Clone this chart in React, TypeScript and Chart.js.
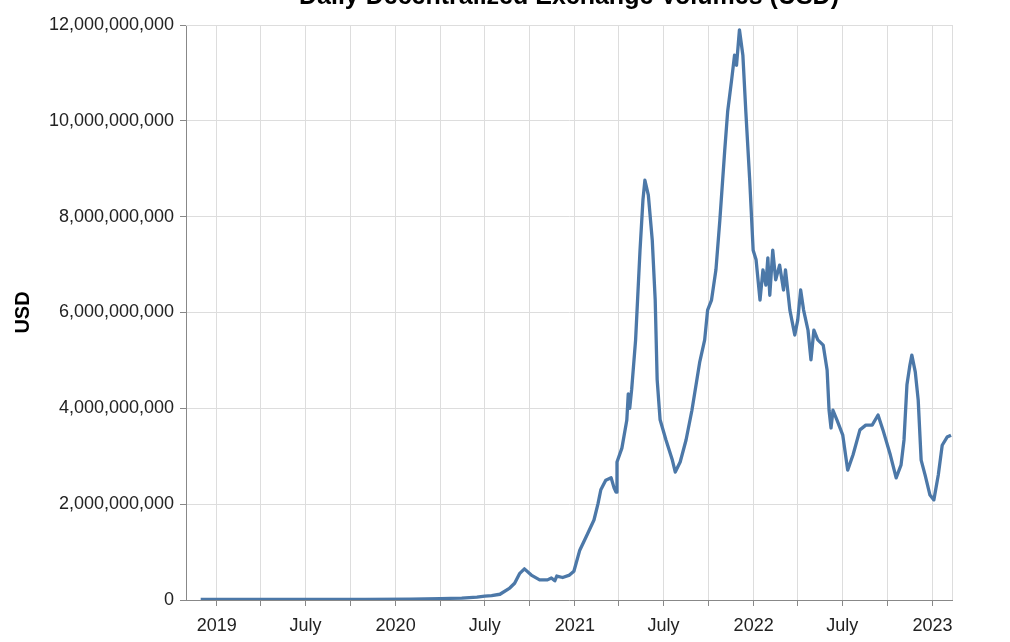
import { useEffect, useRef } from "react";
import { Chart, registerables } from "chart.js";

Chart.register(...registerables);

const chartTitle = "Daily Decentralized Exchange Volumes (USD)";
const yAxisTitle = "USD";

const dates = [
  "2018-11-29", "2019-02-01", "2019-05-01", "2019-08-01", "2019-11-01",
  "2020-02-01", "2020-04-01", "2020-05-15", "2020-06-15", "2020-07-01",
  "2020-07-15", "2020-08-01", "2020-08-21", "2020-08-31", "2020-09-10",
  "2020-09-20", "2020-10-04", "2020-10-21", "2020-11-06", "2020-11-14",
  "2020-11-21", "2020-11-25", "2020-12-07", "2020-12-21", "2020-12-30",
  "2021-01-11", "2021-01-26", "2021-02-09", "2021-02-17", "2021-02-23",
  "2021-03-05", "2021-03-16", "2021-03-22", "2021-03-26", "2021-03-28",
  "2021-04-07", "2021-04-17", "2021-04-20", "2021-04-23", "2021-04-27",
  "2021-05-05", "2021-05-14", "2021-05-20", "2021-05-24", "2021-05-31",
  "2021-06-08", "2021-06-14", "2021-06-18", "2021-06-24", "2021-07-06",
  "2021-07-19", "2021-07-25", "2021-08-04", "2021-08-16", "2021-08-28",
  "2021-09-07", "2021-09-13", "2021-09-23", "2021-09-29", "2021-10-07",
  "2021-10-16", "2021-10-24", "2021-11-03", "2021-11-09", "2021-11-17",
  "2021-11-23", "2021-11-27", "2021-12-03", "2021-12-10", "2021-12-16",
  "2021-12-24", "2021-12-31", "2022-01-06", "2022-01-14", "2022-01-20",
  "2022-01-26", "2022-01-30", "2022-02-03", "2022-02-09", "2022-02-15",
  "2022-02-23", "2022-03-03", "2022-03-07", "2022-03-16", "2022-03-26",
  "2022-04-01", "2022-04-07", "2022-04-13", "2022-04-22", "2022-04-28",
  "2022-05-04", "2022-05-12", "2022-05-23", "2022-05-31", "2022-06-04",
  "2022-06-08", "2022-06-12", "2022-06-20", "2022-07-02", "2022-07-12",
  "2022-07-23", "2022-08-06", "2022-08-18", "2022-08-31", "2022-09-12",
  "2022-09-22", "2022-10-07", "2022-10-19", "2022-10-29", "2022-11-04",
  "2022-11-10", "2022-11-16", "2022-11-20", "2022-11-27", "2022-12-03",
  "2022-12-09", "2022-12-17", "2022-12-27", "2023-01-04", "2023-01-13",
  "2023-01-21", "2023-01-31", "2023-02-08",
];

const volumesBn = [
  0.01, 0.01, 0.012, 0.015, 0.015,
  0.02, 0.03, 0.04, 0.06, 0.08,
  0.09, 0.12, 0.25, 0.35, 0.55,
  0.65, 0.52, 0.42, 0.42, 0.46,
  0.4, 0.5, 0.47, 0.52, 0.6,
  1.04, 1.36, 1.67, 2.0, 2.3,
  2.5, 2.55, 2.34, 2.25, 2.88,
  3.17, 3.75, 4.3, 4.0, 4.4,
  5.43, 7.3, 8.35, 8.76, 8.45,
  7.51, 6.26, 4.6, 3.76, 3.34,
  2.92, 2.67, 2.88, 3.34, 3.96,
  4.59, 4.97, 5.43, 6.05, 6.26,
  6.89, 7.93, 9.39, 10.2, 10.85,
  11.37, 11.16, 11.9, 11.37, 10.2,
  8.76, 7.3, 7.1, 6.26, 6.89,
  6.57, 7.14, 6.36, 7.3, 6.68,
  6.99, 6.47, 6.89, 6.05, 5.53,
  5.84, 6.47, 6.05, 5.63, 5.01,
  5.63, 5.43, 5.32, 4.8, 3.96,
  3.59, 3.96, 3.76, 3.44, 2.71,
  3.03, 3.55, 3.65, 3.65, 3.86,
  3.55, 3.03, 2.55, 2.82, 3.34,
  4.49, 4.9, 5.11, 4.76, 4.17,
  2.92, 2.61, 2.19, 2.09, 2.61,
  3.23, 3.4, 3.44,
];

const xDomain = ["2018-10-30", "2023-02-10"];

const quarterTicks = [
  "2019-01-01", "2019-04-01", "2019-07-01", "2019-10-01",
  "2020-01-01", "2020-04-01", "2020-07-01", "2020-10-01",
  "2021-01-01", "2021-04-01", "2021-07-01", "2021-10-01",
  "2022-01-01", "2022-04-01", "2022-07-01", "2022-10-01",
  "2023-01-01",
];
const quarterLabels = [
  "2019", "", "July", "",
  "2020", "", "July", "",
  "2021", "", "July", "",
  "2022", "", "July", "",
  "2023",
];

const yMin = 0;
const yMax = 12000000000;
const yStep = 2000000000;

const FONT = "'Liberation Sans', Arial, Helvetica, sans-serif";

export default function App() {
  const ref = useRef<HTMLCanvasElement | null>(null);

  useEffect(() => {
    const canvas = ref.current;
    if (!canvas) return;

    const tickValues = quarterTicks.map((d) => Date.parse(d));

    const viewBorder = {
      id: "viewBorder",
      beforeDatasetsDraw(chart: any) {
        const { ctx, chartArea } = chart;
        const { left, top, right, bottom } = chartArea;
        ctx.save();
        ctx.strokeStyle = "#ddd";
        ctx.lineWidth = 1;
        ctx.beginPath();
        ctx.moveTo(Math.round(right) + 0.5, top);
        ctx.lineTo(Math.round(right) + 0.5, bottom);
        ctx.moveTo(left, Math.round(top) + 0.5);
        ctx.lineTo(right, Math.round(top) + 0.5);
        ctx.stroke();
        ctx.restore();
      },
    };

    const chart = new Chart(canvas, {
      type: "line",
      data: {
        datasets: [
          {
            label: "USD",
            data: dates.map((d, i) => ({ x: Date.parse(d), y: volumesBn[i] * 1e9 })),
            borderColor: "#4c78a8",
            backgroundColor: "#4c78a8",
            borderWidth: 3.3,
            pointRadius: 0,
            tension: 0,
            borderJoinStyle: "round",
            fill: false,
          },
        ],
      },
      options: {
        animation: false,
        responsive: false,
        layout: { padding: { left: 0, right: 58, top: 0, bottom: 0 } },
        plugins: {
          legend: { display: false },
          tooltip: { enabled: false },
          title: {
            display: true,
            text: chartTitle,
            fullSize: false,
            color: "#000",
            font: { family: FONT, size: 25, weight: "bold" },
            padding: { top: 12, bottom: 13 },
          },
        },
        scales: {
          x: {
            type: "linear",
            min: Date.parse(xDomain[0]),
            max: Date.parse(xDomain[1]),
            afterBuildTicks: (scale: any) => {
              scale.ticks = tickValues.map((v) => ({ value: v }));
            },
            afterFit: (scale: any) => {
              scale.height = 42;
            },
            grid: {
              color: "#ddd",
              lineWidth: 1,
              drawTicks: true,
              tickLength: 6,
              tickColor: "#888",
            },
            border: { display: true, color: "#888", width: 1 },
            ticks: {
              autoSkip: false,
              maxRotation: 0,
              minRotation: 0,
              padding: 9,
              color: "#222",
              font: { family: FONT, size: 18 },
              callback: (value: any) => {
                const idx = tickValues.indexOf(Number(value));
                return idx >= 0 ? quarterLabels[idx] : "";
              },
            },
          },
          y: {
            type: "linear",
            min: yMin,
            max: yMax,
            afterFit: (scale: any) => {
              scale.width = 186;
            },
            grid: {
              color: "#ddd",
              lineWidth: 1,
              drawTicks: true,
              tickLength: 6,
              tickColor: "#888",
            },
            border: { display: true, color: "#888", width: 1 },
            title: {
              display: true,
              text: yAxisTitle,
              color: "#000",
              font: { family: FONT, size: 20, weight: "bold" },
              padding: { top: 11, bottom: 0 },
            },
            ticks: {
              stepSize: yStep,
              padding: 6,
              color: "#222",
              font: { family: FONT, size: 18 },
              callback: (value: any) => Number(value).toLocaleString("en-US"),
            },
          },
        },
      },
      plugins: [viewBorder],
    });

    return () => {
      chart.destroy();
    };
  }, []);

  return (
    <div style={{ position: "absolute", left: 0, top: -30, width: 1010, height: 672 }}>
      <canvas ref={ref} width={1010} height={672} style={{ display: "block", width: 1010, height: 672 }} />
    </div>
  );
}
